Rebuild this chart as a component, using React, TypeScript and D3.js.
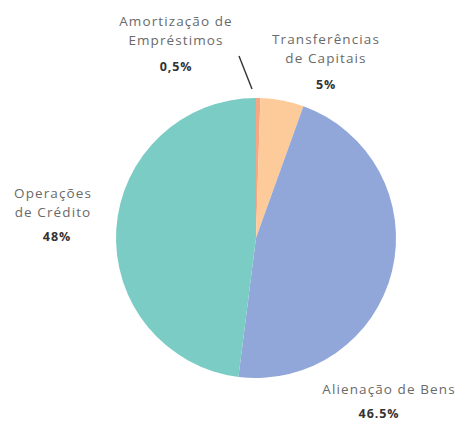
import React from "react";
import * as d3 from "d3";

const categories = ["Amortização de Empréstimos", "Transferências de Capitais", "Alienação de Bens", "Operações de Crédito"];
const values = [0.5, 5, 46.5, 48];
const percentLabels = ["0,5%", "5%", "46.5%", "48%"];
const labelLines = [
  ["Amortização de", "Empréstimos"],
  ["Transferências", "de Capitais"],
  ["Alienação de Bens"],
  ["Operações", "de Crédito"],
];
const colors = ["#F6A683", "#FDCB9A", "#91A6D9", "#7BCCC4"];

// label layout (anchor x, first baseline y, percent baseline y)
const labelPos = [
  { x: 176, y: 26, py: 71 },
  { x: 326, y: 44, py: 89 },
  { x: 389, y: 394, py: 418 },
  { x: 53, y: 198, py: 241 },
];

const W = 461;
const H = 423;
const cx = 256;
const cy = 238;
const R = 140;

export default function App() {
  const pie = d3.pie<number>().sort(null).startAngle(0).endAngle(2 * Math.PI);
  const arcs = pie(values);
  const arc = d3.arc<d3.PieArcDatum<number>>().innerRadius(0).outerRadius(R);
  return (
    <svg width={W} height={H} style={{ position: "absolute", left: 0, top: 0, background: "#fff" }}>
      <g transform={`translate(${cx},${cy})`}>
        {arcs.map((a, i) => (
          <path key={i} d={arc(a) as string} fill={colors[i]} />
        ))}
        <line x1={-4} y1={-149} x2={-17} y2={-182} stroke="#333" strokeWidth={1.4} />
      </g>
      {labelLines.map((lines, i) => (
        <g key={i} fontFamily="'Open Sans', sans-serif" textAnchor="middle">
          {lines.map((t, j) => (
            <text key={j} x={labelPos[i].x} y={labelPos[i].y + j * 19} fontSize={13.5} fill="#6a6a6a" letterSpacing={1.1}>
              {t}
            </text>
          ))}
          <text x={labelPos[i].x + (i === 3 ? 4 : i === 2 ? -10 : 0)} y={labelPos[i].py} fontSize={12.5} fontWeight="bold" fill="#333" letterSpacing={0.9}>
            {percentLabels[i]}
          </text>
        </g>
      ))}
    </svg>
  );
}
